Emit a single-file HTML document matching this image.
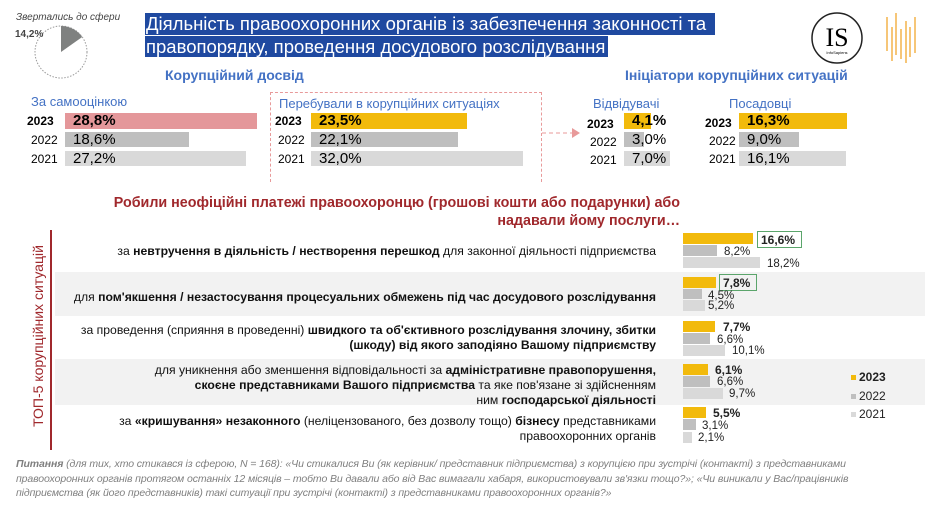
<!DOCTYPE html>
<html><head><meta charset="utf-8"><style>
*{margin:0;padding:0;box-sizing:border-box}
body{width:929px;height:505px;background:#fff;position:relative;overflow:hidden;font-family:"Liberation Sans",sans-serif;color:#000}
.a{position:absolute;white-space:nowrap}
.bar{position:absolute}
.blue{color:#4472C4}
.yr{font-size:12px;line-height:15px}
.val{font-size:15px;line-height:16px}
.row{position:absolute;left:55px;width:870px}
.rt{position:absolute;right:273px;text-align:right;font-size:12.2px;line-height:15px;white-space:nowrap;color:#111}
.bv{position:absolute;font-size:11.5px;line-height:12px;color:#222}
</style></head><body>
<!-- pie -->
<div class="a" style="left:16px;top:12px;font-size:10px;font-style:italic;color:#444">Звертались до сфери</div>
<div class="a" style="left:15px;top:29px;font-size:10px;font-weight:bold;color:#444">14,2%</div>
<svg class="a" style="left:33px;top:24px" width="56" height="56">
<circle cx="28" cy="28" r="26" fill="none" stroke="#999" stroke-width="1" stroke-dasharray="1.5 1.5"/>
<path d="M28 28 L28 2 A26 26 0 0 1 49.2 13 Z" fill="#7F8180"/>
</svg>
<!-- title -->
<div class="a" style="left:145px;top:13px;width:570px;height:22px;background:#1F49A0"></div>
<div class="a" style="left:145px;top:36px;width:463px;height:21px;background:#1F49A0"></div>
<div class="a" style="left:146px;top:13px;font-size:18.5px;line-height:22px;color:#fff">Діяльність правоохоронних органів із забезпечення законності та</div>
<div class="a" style="left:146px;top:36px;font-size:18.5px;line-height:21px;color:#fff">правопорядку, проведення досудового розслідування</div>
<!-- logos -->
<svg class="a" style="left:810px;top:11px" width="110" height="54">
<circle cx="27" cy="27" r="25" fill="none" stroke="#222" stroke-width="1.5"/>
<text x="27" y="35" font-family="Liberation Serif" font-size="26" text-anchor="middle" fill="#000">IS</text>
<text x="27" y="43" font-family="Liberation Sans" font-size="4" text-anchor="middle">InfoSapiens</text>
<g stroke="#F2B24A" stroke-width="1.5">
<line x1="77" y1="6" x2="77" y2="40"/><line x1="82" y1="16" x2="82" y2="50"/><line x1="86" y1="2" x2="86" y2="44"/><line x1="91" y1="18" x2="91" y2="48"/><line x1="96" y1="10" x2="96" y2="52"/><line x1="100" y1="16" x2="100" y2="46"/><line x1="105" y1="6" x2="105" y2="42"/>
</g></svg>
<!-- headings -->
<div class="a blue" style="left:165px;top:67px;font-size:14px;font-weight:bold">Корупційний досвід</div>
<div class="a blue" style="left:625px;top:67px;font-size:14px;font-weight:bold">Ініціатори корупційних ситуацій</div>
<!-- block1 -->
<div class="a blue" style="left:31px;top:94px;font-size:13px">За самооцінкою</div>
<div class="a yr" style="left:27px;top:114px;font-weight:bold">2023</div>
<div class="a yr" style="left:31px;top:133px">2022</div>
<div class="a yr" style="left:31px;top:152px">2021</div>
<div class="bar" style="left:65px;top:113px;width:192px;height:16px;background:#E4979A"></div>
<div class="bar" style="left:65px;top:132px;width:124px;height:15px;background:#BFBFBF"></div>
<div class="bar" style="left:65px;top:151px;width:181px;height:15px;background:#D9D9D9"></div>
<div class="a val" style="left:73px;top:113px;font-weight:bold">28,8%</div>
<div class="a val" style="left:73px;top:132px">18,6%</div>
<div class="a val" style="left:73px;top:151px">27,2%</div>
<!-- block2 -->
<div class="a" style="left:270px;top:92px;width:272px;height:90px;border:1px dashed #E89A9A;border-bottom:none"></div>
<div class="a blue" style="left:279px;top:96px;font-size:13px">Перебували в корупційних ситуаціях</div>
<div class="a yr" style="left:275px;top:114px;font-weight:bold">2023</div>
<div class="a yr" style="left:278px;top:133px">2022</div>
<div class="a yr" style="left:278px;top:152px">2021</div>
<div class="bar" style="left:311px;top:113px;width:156px;height:16px;background:#F2BA0C"></div>
<div class="bar" style="left:311px;top:132px;width:147px;height:15px;background:#BFBFBF"></div>
<div class="bar" style="left:311px;top:151px;width:212px;height:15px;background:#D9D9D9"></div>
<div class="a val" style="left:319px;top:113px;font-weight:bold">23,5%</div>
<div class="a val" style="left:319px;top:132px">22,1%</div>
<div class="a val" style="left:319px;top:151px">32,0%</div>
<svg class="a" style="left:542px;top:127px" width="40" height="12"><line x1="0" y1="6" x2="30" y2="6" stroke="#E89A9A" stroke-dasharray="4 3"/><path d="M30 1 L38 6 L30 11Z" fill="#E89A9A"/></svg>
<!-- block3 -->
<div class="a blue" style="left:593px;top:96px;font-size:13px">Відвідувачі</div>
<div class="a yr" style="left:587px;top:117px;font-weight:bold">2023</div>
<div class="a yr" style="left:590px;top:135px">2022</div>
<div class="a yr" style="left:590px;top:153px">2021</div>
<div class="bar" style="left:624px;top:113px;width:27px;height:16px;background:#F2BA0C"></div>
<div class="bar" style="left:624px;top:132px;width:20px;height:15px;background:#BFBFBF"></div>
<div class="bar" style="left:624px;top:151px;width:46px;height:15px;background:#D9D9D9"></div>
<div class="a val" style="left:632px;top:113px;font-weight:bold">4,1%</div>
<div class="a val" style="left:632px;top:132px">3,0%</div>
<div class="a val" style="left:632px;top:151px">7,0%</div>
<div class="a blue" style="left:729px;top:96px;font-size:13px">Посадовці</div>
<div class="a yr" style="left:705px;top:116px;font-weight:bold">2023</div>
<div class="a yr" style="left:709px;top:134px">2022</div>
<div class="a yr" style="left:709px;top:152px">2021</div>
<div class="bar" style="left:739px;top:113px;width:108px;height:16px;background:#F2BA0C"></div>
<div class="bar" style="left:739px;top:132px;width:60px;height:15px;background:#BFBFBF"></div>
<div class="bar" style="left:739px;top:151px;width:107px;height:15px;background:#D9D9D9"></div>
<div class="a val" style="left:747px;top:113px;font-weight:bold">16,3%</div>
<div class="a val" style="left:747px;top:132px">9,0%</div>
<div class="a val" style="left:747px;top:151px">16,1%</div>
<!-- section 2 -->
<div class="a" style="right:249px;top:194px;font-size:14.3px;font-weight:bold;color:#A0282C;text-align:right;line-height:18px">Робили неофіційні платежі правоохоронцю (грошові кошти або подарунки) або<br>надавали йому послуги…</div>
<div class="a" style="left:50px;top:230px;width:1.5px;height:220px;background:#A0282C"></div>
<div class="a" style="left:38px;top:336px;transform:translate(-50%,-50%) rotate(-90deg);font-size:14px;color:#A0282C">ТОП-5 корупційних ситуацій</div>
<div class="row" style="top:272px;height:44px;background:#F2F2F2"></div>
<div class="row" style="top:359px;height:46px;background:#F2F2F2"></div>
<div class="rt" style="top:244px">за <b>невтручення в діяльність / нестворення перешкод</b> для законної діяльності підприємства</div>
<div class="rt" style="top:290px">для <b>пом'якшення / незастосування процесуальних обмежень під час досудового розслідування</b></div>
<div class="rt" style="top:323px">за проведення (сприяння в проведенні) <b>швидкого та об'єктивного розслідування злочину, збитки<br>(шкоду) від якого заподіяно Вашому підприємству</b></div>
<div class="rt" style="top:363px">для уникнення або зменшення відповідальності за <b>адміністративне правопорушення,<br>скоєне представниками Вашого підприємства</b> та яке пов'язане зі здійсненням<br>ним <b>господарської діяльності</b></div>
<div class="rt" style="top:414px">за <b>«кришування» незаконного</b> (неліцензованого, без дозволу тощо) <b>бізнесу</b> представниками<br>правоохоронних органів</div>
<!-- bars rows -->
<div class="bar" style="left:683px;top:233px;width:70px;height:11px;background:#F2BA0C"></div>
<div class="bar" style="left:683px;top:245px;width:34px;height:11px;background:#BFBFBF"></div>
<div class="bar" style="left:683px;top:257px;width:77px;height:11px;background:#D9D9D9"></div>
<div class="a" style="left:757px;top:231px;width:45px;height:17px;border:1.5px solid #5BA56B"></div>
<div class="bv" style="left:761px;top:234px;font-weight:bold;font-size:12px">16,6%</div>
<div class="bv" style="left:724px;top:246px">8,2%</div>
<div class="bv" style="left:767px;top:258px">18,2%</div>

<div class="bar" style="left:683px;top:277px;width:33px;height:11px;background:#F2BA0C"></div>
<div class="bar" style="left:683px;top:289px;width:19px;height:10px;background:#BFBFBF"></div>
<div class="bar" style="left:683px;top:300px;width:22px;height:11px;background:#D9D9D9"></div>
<div class="a" style="left:719px;top:274px;width:38px;height:17px;border:1.5px solid #5BA56B"></div>
<div class="bv" style="left:723px;top:277px;font-weight:bold;font-size:12px">7,8%</div>
<div class="bv" style="left:708px;top:290px">4,5%</div>
<div class="bv" style="left:708px;top:300px">5,2%</div>

<div class="bar" style="left:683px;top:321px;width:32px;height:11px;background:#F2BA0C"></div>
<div class="bar" style="left:683px;top:333px;width:27px;height:11px;background:#BFBFBF"></div>
<div class="bar" style="left:683px;top:345px;width:42px;height:11px;background:#D9D9D9"></div>
<div class="bv" style="left:723px;top:321px;font-weight:bold;font-size:12px">7,7%</div>
<div class="bv" style="left:717px;top:334px">6,6%</div>
<div class="bv" style="left:732px;top:345px">10,1%</div>

<div class="bar" style="left:683px;top:364px;width:25px;height:11px;background:#F2BA0C"></div>
<div class="bar" style="left:683px;top:376px;width:27px;height:11px;background:#BFBFBF"></div>
<div class="bar" style="left:683px;top:388px;width:40px;height:11px;background:#D9D9D9"></div>
<div class="bv" style="left:715px;top:364px;font-weight:bold;font-size:12px">6,1%</div>
<div class="bv" style="left:717px;top:376px">6,6%</div>
<div class="bv" style="left:729px;top:388px">9,7%</div>

<div class="bar" style="left:683px;top:407px;width:23px;height:11px;background:#F2BA0C"></div>
<div class="bar" style="left:683px;top:419px;width:13px;height:11px;background:#BFBFBF"></div>
<div class="bar" style="left:683px;top:432px;width:9px;height:11px;background:#D9D9D9"></div>
<div class="bv" style="left:713px;top:407px;font-weight:bold;font-size:12px">5,5%</div>
<div class="bv" style="left:702px;top:420px">3,1%</div>
<div class="bv" style="left:698px;top:432px">2,1%</div>
<!-- legend -->
<div class="bar" style="left:851px;top:375px;width:5px;height:5px;background:#F2BA0C"></div>
<div class="bv" style="left:859px;top:371px;font-weight:bold;font-size:12px">2023</div>
<div class="bar" style="left:851px;top:394px;width:5px;height:5px;background:#BFBFBF"></div>
<div class="bv" style="left:859px;top:390px;font-size:12px">2022</div>
<div class="bar" style="left:851px;top:412px;width:5px;height:5px;background:#D9D9D9"></div>
<div class="bv" style="left:859px;top:408px;font-size:12px">2021</div>
<!-- footer -->
<div class="a" style="left:16px;top:457px;font-size:10.5px;line-height:14.5px;font-style:italic;color:#7F7F7F;letter-spacing:-0.1px"><b>Питання</b> (для тих, хто стикався із сферою, N = 168): «Чи стикалися Ви (як керівник/ представник підприємства) з корупцією при зустрічі (контакті) з представниками<br>правоохоронних органів протягом останніх 12 місяців – тобто Ви давали або від Вас вимагали хабаря, використовували зв'язки тощо?»; «Чи виникали у Вас/працівників<br>підприємства (як його представників) такі ситуації при зустрічі (контакті) з представниками правоохоронних органів?»</div>
</body></html>
